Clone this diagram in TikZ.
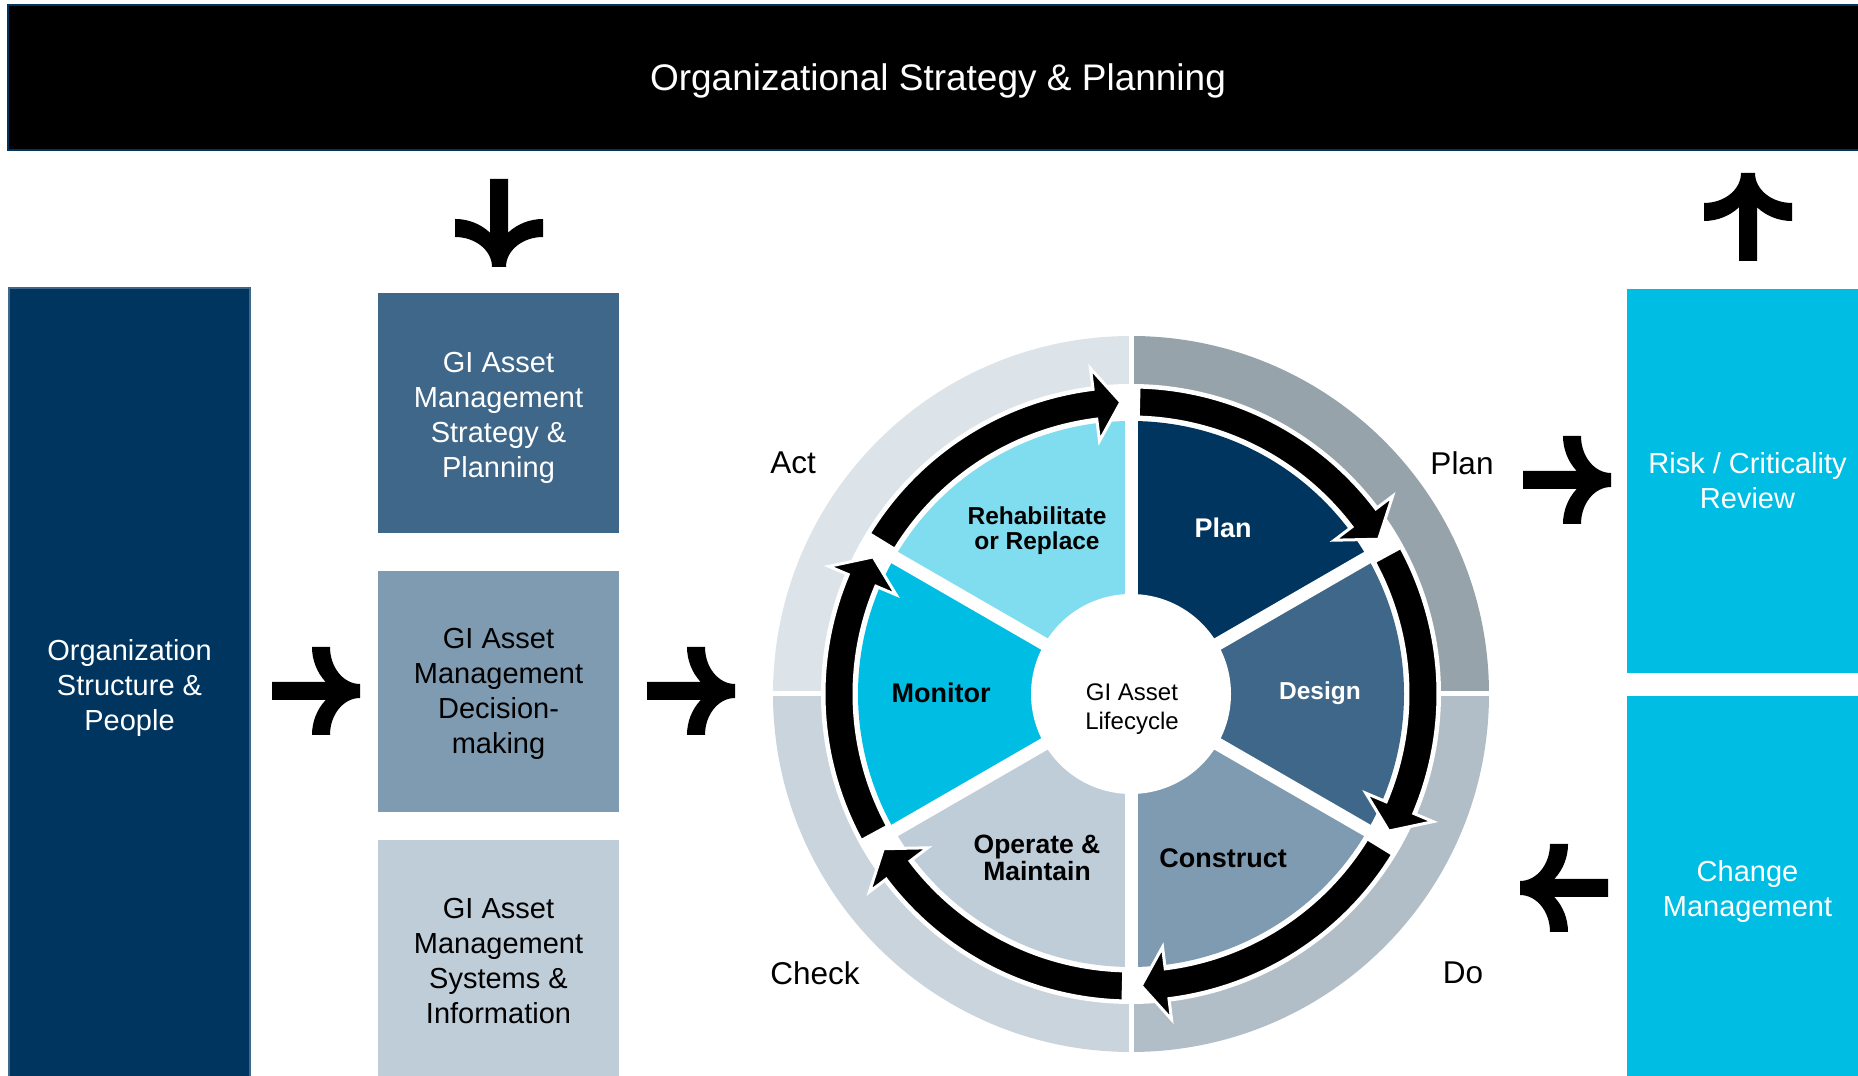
\documentclass[tikz,border=0pt]{standalone}
\usepackage{fontspec}
\setmainfont{Liberation Sans}
\usetikzlibrary{calc}

\definecolor{navy}{HTML}{00355F}
\definecolor{steel}{HTML}{3F6789}
\definecolor{slate}{HTML}{7F9BB1}
\definecolor{mist}{HTML}{BFCDD9}
\definecolor{aqua}{HTML}{00BDE3}
\definecolor{paleaqua}{HTML}{7FDDEF}
\definecolor{ringplan}{HTML}{97A3AA}
\definecolor{ringdo}{HTML}{B1BEC7}
\definecolor{ringcheck}{HTML}{CAD4DC}
\definecolor{ringact}{HTML}{DCE3E9}

% block arrow with curved barbs, pointing along +x, tip at the origin
\tikzset{
  blockarrow/.pic={
    \fill[black] (0,7)
      arc[start angle=-90, end angle=-180, x radius=30, y radius=37]
      -- (-48,44)
      arc[start angle=180, end angle=224.43, x radius=48, y radius=50]
      -- (-88,9) -- (-88,-9) -- (-34.3,-9)
      arc[start angle=135.57, end angle=180, x radius=48, y radius=50]
      -- (-30,-44)
      arc[start angle=180, end angle=90, x radius=30, y radius=37]
      -- cycle;
  },
  panel/.style={inner sep=0pt, align=center, minimum width=241pt,
    font=\fontsize{29}{35}\selectfont},
  seclabel/.style={inner sep=0pt, align=center},
  phase/.style={inner sep=0pt, font=\fontsize{31.5}{38}\selectfont},
}

% clockwise band arrow of the lifecycle: #1 tail angle, #2 tip angle
\newcommand{\lifearrow}[2]{%
  \pgfmathsetmacro{\headback}{#2+5.1}%
  \filldraw[black, draw=white, line width=3pt]
    (#1:307) arc[start angle=#1, end angle=\headback, radius=307]
    -- (\headback:328) -- (#2:292) -- (\headback:255) -- (\headback:277)
    arc[start angle=\headback, end angle=#1, radius=277] -- cycle;%
}

\begin{document}
\begin{tikzpicture}[x=1pt, y=1pt]
\useasboundingbox (0,0) rectangle (1858,1076);
\clip (0,0) rectangle (1858,1076);

% top banner
\fill[black, draw=navy, line width=2pt] (8,926) rectangle (1870,1071);
\node[inner sep=0pt, text=white, font=\fontsize{37}{44}\selectfont]
      (org) at (938,995) {Organizational Strategy \& Planning};

% left column
\fill[navy, draw=steel, line width=1.2pt] (9,-4) rectangle (250,788);
\node[panel, text=white] (people) at (129.5,388)
      {Organization\\Structure \&\\People};

% middle column
\fill[steel] (378,543) rectangle (619,783);
\node[panel, text=white] (strategy) at (498.5,658)
      {GI Asset\\Management\\Strategy \&\\Planning};
\fill[slate] (378,264) rectangle (619,505);
\node[panel, text=black] (decision) at (498.5,382)
      {GI Asset\\Management\\Decision-\\making};
\fill[mist] (378,-4) rectangle (619,236);
\node[panel, text=black] (systems) at (498.5,115)
      {GI Asset\\Management\\Systems \&\\Information};

% right column
\fill[aqua] (1627,403) rectangle (1870,787);
\node[panel, text=white] (risk) at (1747.5,595) {Risk / Criticality\\Review};
\fill[aqua] (1627,-4) rectangle (1870,380);
\node[panel, text=white] (change) at (1747.5,184.5) {Change\\Management};

% block arrows
\pic[rotate=-90] at (499,809) {blockarrow};
\pic at (360,385) {blockarrow};
\pic at (735,385) {blockarrow};
\pic at (1611,596) {blockarrow};
\pic[rotate=90] at (1748,903) {blockarrow};
\pic[rotate=180] at (1520,188) {blockarrow};

% lifecycle wheel
\begin{scope}[shift={(1131,382)}]
  % outer PDCA ring
  \fill[ringplan]  (0,0) -- (0:358)   arc[start angle=0,   end angle=90,  radius=358] -- cycle;
  \fill[ringact]   (0,0) -- (90:358)  arc[start angle=90,  end angle=180, radius=358] -- cycle;
  \fill[ringcheck] (0,0) -- (180:358) arc[start angle=180, end angle=270, radius=358] -- cycle;
  \fill[ringdo]    (0,0) -- (270:358) arc[start angle=270, end angle=360, radius=358] -- cycle;
  \draw[white, line width=5pt] (-362,0) -- (362,0) (0,-362) -- (0,362);
  \fill[white] (0,0) circle[radius=310];
  % six lifecycle sectors
  \fill[navy]     (0,0) -- (90:273)   arc[start angle=90,   end angle=30,   radius=273] -- cycle;
  \fill[steel]    (0,0) -- (30:273)   arc[start angle=30,   end angle=-30,  radius=273] -- cycle;
  \fill[slate]    (0,0) -- (-30:273)  arc[start angle=-30,  end angle=-90,  radius=273] -- cycle;
  \fill[mist]     (0,0) -- (-90:273)  arc[start angle=-90,  end angle=-150, radius=273] -- cycle;
  \fill[aqua]     (0,0) -- (-150:273) arc[start angle=-150, end angle=-210, radius=273] -- cycle;
  \fill[paleaqua] (0,0) -- (150:273)  arc[start angle=150,  end angle=90,   radius=273] -- cycle;
  \foreach \a in {90,30,-30,-90,-150,150}
    \draw[white, line width=13pt] (0,0) -- (\a:282);
  \fill[white] (0,0) circle[radius=100];
  % clockwise arrows
  \lifearrow{148.5}{92}
  \lifearrow{88.5}{32}
  \lifearrow{28.5}{-28}
  \lifearrow{-31.5}{-88}
  \lifearrow{-91.5}{-148}
  \lifearrow{-151.5}{-208}
\end{scope}

% wheel labels
\node[inner sep=0pt, align=center, font=\fontsize{24}{29}\selectfont]
      (hub) at (1132,367) {GI Asset\\Lifecycle};
\node[seclabel, text=white, font=\bfseries\fontsize{27}{27}\selectfont]
      (splan) at (1223,548) {Plan};
\node[seclabel, text=white, font=\bfseries\fontsize{24.5}{25}\selectfont]
      (sdesign) at (1320,383) {Design};
\node[seclabel, font=\bfseries\fontsize{27}{27}\selectfont]
      (sconstruct) at (1223,218) {Construct};
\node[seclabel, font=\bfseries\fontsize{26.5}{26.5}\selectfont]
      (soperate) at (1037,218) {Operate \&\\Maintain};
\node[seclabel, font=\bfseries\fontsize{27}{27}\selectfont]
      (smonitor) at (941,383) {Monitor};
\node[seclabel, font=\bfseries\fontsize{24.5}{25}\selectfont]
      (srehab) at (1037,545) {Rehabilitate\\or Replace};

% PDCA labels
\node[phase] (act) at (793,613) {Act};
\node[phase] (pplan) at (1462,613) {Plan};
\node[phase] (check) at (815,103) {Check};
\node[phase] (do) at (1463,103) {Do};
\end{tikzpicture}
\end{document}
